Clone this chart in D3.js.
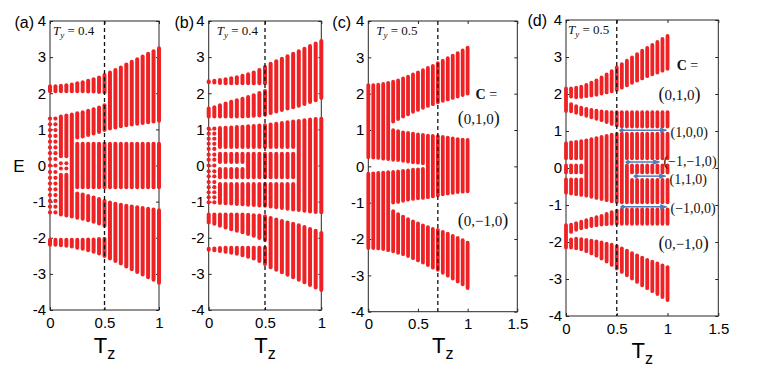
<!DOCTYPE html>
<html>
<head>
<meta charset="utf-8">
<script src="https://cdn.jsdelivr.net/npm/d3@7"></script>
<style>
body { margin: 0; background: #fff; }
svg { display: block; }
</style>
</head>
<body>
<div id="chart"></div>
<script>
const width = 763
const height = 370
const red = "#ee2224"
const blue = "#4a7ebb"
const axisColor = "#262626"
const sans = "Liberation Sans, Arial, sans-serif"
const serif = "Liberation Serif, Times New Roman, serif"

// T_z of every column
const tz = [0, 0.05, 0.1, 0.15, 0.2, 0.25, 0.3, 0.35, 0.4, 0.45, 0.5, 0.55, 0.6, 0.65, 0.7, 0.75, 0.8, 0.85, 0.9, 0.95, 1]
const yTicks = [-4, -3, -2, -1, 0, 1, 2, 3, 4]
const xTicksShort = [0, 0.5, 1]
const xTicksLong = [0, 0.5, 1, 1.5]

// panel (a): [lo, hi] of E for each column, null where the band is absent
const aBand1 = [[2.0,2.25],[2.0,2.25],[2.0,2.26],[2.0,2.28],[2.0,2.3],[2.0,2.33],[2.0,2.36],[1.99,2.4],[1.99,2.44],[1.98,2.49],[1.97,2.56],[0.97,2.63],[1.0,2.7],[1.03,2.77],[1.06,2.85],[1.08,2.93],[1.1,3.0],[1.12,3.07],[1.14,3.15],[1.16,3.22],[1.18,3.3]]
const aBand2 = [null,null,[0.2,1.41],[0.2,1.44],[-1.47,1.47],[0.72,1.5],[0.75,1.53],[0.79,1.57],[0.83,1.61],[0.87,1.66],[0.93,1.72],null,null,null,null,null,null,null,null,null,null]
const aBand3 = [null,null,[0.03,0.12],[0.03,0.12],null,[-0.66,0.66],[-0.66,0.66],[-0.66,0.66],[-0.66,0.66],[-0.66,0.66],[-0.66,0.66],[-0.66,0.66],[-0.66,0.66],[-0.66,0.66],[-0.66,0.66],[-0.66,0.66],[-0.66,0.66],[-0.66,0.66],[-0.66,0.66],[-0.66,0.66],[-0.66,0.66]]
const aBand4 = [null,null,[-0.12,-0.03],[-0.12,-0.03],null,null,null,null,null,null,null,null,null,null,null,null,null,null,null,null,null]
const aBand5 = [null,null,[-1.41,-0.2],[-1.44,-0.2],null,[-1.5,-0.72],[-1.53,-0.75],[-1.57,-0.79],[-1.61,-0.83],[-1.66,-0.87],[-1.72,-0.93],null,null,null,null,null,null,null,null,null,null]
const aBand6 = [[-2.25,-2.0],[-2.25,-2.0],[-2.26,-2.0],[-2.28,-2.0],[-2.3,-2.0],[-2.33,-2.0],[-2.36,-2.0],[-2.4,-1.99],[-2.44,-1.99],[-2.49,-1.98],[-2.56,-1.97],[-2.63,-0.97],[-2.7,-1.0],[-2.77,-1.03],[-2.85,-1.06],[-2.93,-1.08],[-3.0,-1.1],[-3.07,-1.12],[-3.15,-1.14],[-3.22,-1.16],[-3.3,-1.18]]
const aDotCols = [0, 0.05]
const aDotLevels = [1.3, 1.14, 0.98, 0.82, 0.66, 0.5, 0.34, 0.18, 0, -0.18, -0.34, -0.5, -0.66, -0.82, -0.98, -1.14, -1.3]

// panel (b)
const bBand1 = [[2.25,2.39],[2.24,2.4],[2.23,2.42],[2.22,2.44],[2.22,2.47],[2.22,2.5],[2.22,2.54],[2.22,2.58],[2.22,2.63],[2.22,2.7],[2.22,2.78],[1.4,2.87],[1.44,2.94],[1.48,3.01],[1.52,3.08],[1.56,3.15],[1.6,3.22],[1.65,3.29],[1.7,3.36],[1.75,3.43],[1.81,3.5]]
const bBand2 = [[1.3,1.63],[1.3,1.67],[1.3,1.72],[1.3,1.77],[1.3,1.82],[1.3,1.86],[1.3,1.9],[1.31,1.95],[1.32,2.0],[1.33,2.06],[1.35,2.12],null,null,null,null,null,null,null,null,null,null]
const bBand3 = [null,null,[0.46,1.09],[0.46,1.1],[0.46,1.11],[0.46,1.12],[0.46,1.13],[0.46,1.14],[0.46,1.15],[0.46,1.16],[0.46,1.17],[0.46,1.19],[0.46,1.21],[0.46,1.23],[0.46,1.25],[0.46,1.27],[-1.29,1.29],[-1.31,1.31],[-1.33,1.33],[-1.34,1.34],[-1.35,1.35]]
const bBand4 = [null,null,[0.04,0.38],[0.04,0.38],[0.04,0.38],[0.04,0.38],[0.04,0.38],[-0.38,0.38],[-0.38,0.38],[-0.38,0.38],[-0.38,0.38],[-0.38,0.38],[-0.38,0.38],[-0.38,0.38],[-0.38,0.38],[-0.38,0.38],null,null,null,null,null]
const bBand5 = [null,null,[-0.38,-0.04],[-0.38,-0.04],[-0.38,-0.04],[-0.38,-0.04],[-0.38,-0.04],null,null,null,null,null,null,null,null,null,null,null,null,null,null]
const bBand6 = [null,null,[-1.09,-0.46],[-1.1,-0.46],[-1.11,-0.46],[-1.12,-0.46],[-1.13,-0.46],[-1.14,-0.46],[-1.15,-0.46],[-1.16,-0.46],[-1.17,-0.46],[-1.19,-0.46],[-1.21,-0.46],[-1.23,-0.46],[-1.25,-0.46],[-1.27,-0.46],null,null,null,null,null]
const bBand7 = [[-1.63,-1.3],[-1.67,-1.3],[-1.72,-1.3],[-1.77,-1.3],[-1.82,-1.3],[-1.86,-1.3],[-1.9,-1.3],[-1.95,-1.31],[-2.0,-1.32],[-2.06,-1.33],[-2.12,-1.35],null,null,null,null,null,null,null,null,null,null]
const bBand8 = [[-2.39,-2.25],[-2.4,-2.24],[-2.42,-2.23],[-2.44,-2.22],[-2.47,-2.22],[-2.5,-2.22],[-2.54,-2.22],[-2.58,-2.22],[-2.63,-2.22],[-2.7,-2.22],[-2.78,-2.22],[-2.87,-1.4],[-2.94,-1.44],[-3.01,-1.48],[-3.08,-1.52],[-3.15,-1.56],[-3.22,-1.6],[-3.29,-1.65],[-3.36,-1.7],[-3.43,-1.75],[-3.5,-1.81]]
const bDotCols = [0, 0.05]
const bDotLevels = [1.02, 0.88, 0.74, 0.6, 0.46, 0.3, 0.16, 0, -0.16, -0.3, -0.46, -0.6, -0.74, -0.88, -1.02]

// panel (c)
const cBand1 = [[0.2,2.29],[0.19,2.29],[0.18,2.3],[0.16,2.32],[0.15,2.35],[1.18,2.38],[1.25,2.42],[1.32,2.47],[1.38,2.52],[1.45,2.58],[1.5,2.64],[1.56,2.7],[1.61,2.76],[1.66,2.82],[1.71,2.89],[1.75,2.96],[1.79,3.03],[1.83,3.1],[1.87,3.17],[1.91,3.24],[1.95,3.32]]
const cBand2 = [null,null,null,null,null,[0.13,1.05],[0.12,1.02],[0.1,0.99],[0.08,0.97],[0.06,0.95],[0.05,0.93],[0.03,0.92],[-0.9,0.9],[-0.88,0.89],[-0.85,0.88],[-0.82,0.86],[-0.8,0.84],[-0.78,0.82],[-0.76,0.8],[-0.75,0.79],[-0.74,0.78]]
const cBand3 = [[-2.3,-0.15],[-2.3,-0.14],[-2.31,-0.13],[-2.33,-0.12],[-2.36,-0.11],[-1.05,-0.1],[-1.03,-0.09],[-1.0,-0.07],[-0.97,-0.06],[-0.95,-0.04],[-0.93,-0.03],[-0.92,-0.02],null,null,null,null,null,null,null,null,null]
const cBand4 = [null,null,null,null,null,[-2.39,-1.18],[-2.43,-1.26],[-2.47,-1.33],[-2.52,-1.4],[-2.58,-1.46],[-2.64,-1.52],[-2.7,-1.57],[-2.77,-1.62],[-2.84,-1.67],[-2.9,-1.7],[-2.98,-1.75],[-3.06,-1.8],[-3.14,-1.86],[-3.22,-1.92],[-3.3,-1.98],[-3.4,-2.05]]

// panel (d)
const dBand1 = [[1.49,2.2],[1.88,2.2],[1.86,2.22],[1.87,2.25],[1.89,2.3],[1.91,2.36],[1.93,2.42],[1.96,2.5],[1.99,2.58],[2.02,2.67],[2.06,2.77],[2.12,2.86],[2.18,2.95],[2.25,3.04],[2.31,3.13],[2.37,3.22],[2.43,3.3],[2.48,3.38],[2.53,3.46],[2.58,3.54],[2.63,3.62]]
const dBand2 = [null,[1.48,1.78],[1.44,1.72],[1.4,1.68],[1.36,1.65],[1.32,1.62],[1.28,1.6],[1.24,1.58],[1.19,1.57],[1.14,1.56],[1.1,1.56],[1.07,1.56],[1.07,1.56],[1.07,1.56],[1.07,1.56],[1.07,1.56],[1.07,1.56],[1.07,1.56],[1.07,1.56],[1.07,1.56],[1.07,1.56]]
const dBand3 = [[0.21,0.72],[0.21,0.74],[0.21,0.76],[0.21,0.78],[-0.8,0.8],[-0.83,0.83],[-0.86,0.86],[-0.89,0.89],[-0.92,0.92],[-0.95,0.95],[-0.97,0.97],[-0.98,0.98],[0.21,0.98],[0.21,0.98],[0.21,0.98],[0.21,0.98],[0.21,0.98],[0.21,0.98],[0.21,0.98],[0.21,0.98],[0.21,0.98]]
const dBand4 = [[-0.17,0.12],[-0.17,0.12],[-0.17,0.12],[-0.17,0.12],null,null,null,null,null,null,null,null,[-0.98,0.12],[-0.17,0.12],[-0.17,0.12],[-0.17,0.12],[-0.17,0.12],[-0.17,0.12],[-0.17,0.12],[-0.17,0.12],[-0.17,0.12]]
const dBand5 = [[-0.72,-0.26],[-0.74,-0.26],[-0.76,-0.26],[-0.78,-0.26],null,null,null,null,null,null,null,null,null,[-0.98,-0.27],[-0.98,-0.27],[-0.98,-0.27],[-0.98,-0.27],[-0.98,-0.27],[-0.98,-0.27],[-0.98,-0.27],[-0.98,-0.27]]
const dBand6 = [null,[-1.78,-1.48],[-1.72,-1.44],[-1.68,-1.4],[-1.65,-1.36],[-1.62,-1.32],[-1.6,-1.28],[-1.58,-1.24],[-1.57,-1.19],[-1.56,-1.14],[-1.56,-1.1],[-1.56,-1.07],[-1.56,-1.07],[-1.56,-1.07],[-1.56,-1.07],[-1.56,-1.07],[-1.56,-1.07],[-1.56,-1.07],[-1.56,-1.07],[-1.56,-1.07],[-1.56,-1.07]]
const dBand7 = [[-2.2,-1.49],[-2.2,-1.88],[-2.22,-1.86],[-2.25,-1.87],[-2.3,-1.89],[-2.36,-1.91],[-2.42,-1.93],[-2.5,-1.96],[-2.58,-1.99],[-2.67,-2.02],[-2.77,-2.06],[-2.86,-2.12],[-2.95,-2.18],[-3.04,-2.25],[-3.13,-2.31],[-3.22,-2.37],[-3.3,-2.43],[-3.38,-2.48],[-3.46,-2.53],[-3.54,-2.58],[-3.62,-2.63]]

// gap arrows of panel (d)
const arrowE = [1.02, 0.16, -0.22, -1.05]
const arrowFrom = [0.55, 0.61, 0.69, 0.56]
const arrowTo = [0.99, 0.92, 0.98, 0.99]
const arrowLabels = ["(1,0,0)", "(\u22121,\u22121,0)", "(1,1,0)", "(\u22121,0,0)"]
// where the arrow labels sit (E), a little apart so they do not collide
const arrowLabelE = [1.0, 0.21, -0.27, -1.06]

const panels = [
    {name: "(a)", ty: "0.4", cut: 0.5, xmax: 1, xTicks: xTicksShort,
     bands: [aBand1, aBand2, aBand3, aBand4, aBand5, aBand6], dotCols: aDotCols, dotLevels: aDotLevels,
     x0: 50, x1: 159, y0: 21, y1: 310, tyDx: 3, nameX: 34, nameY: 28, xlabY: 353, notes: []},
    {name: "(b)", ty: "0.4", cut: 0.5, xmax: 1, xTicks: xTicksShort,
     bands: [bBand1, bBand2, bBand3, bBand4, bBand5, bBand6, bBand7, bBand8], dotCols: bDotCols, dotLevels: bDotLevels,
     x0: 208.7, x1: 321.3, y0: 21, y1: 310, tyDx: 8, nameX: 194, nameY: 28, xlabY: 353, notes: []},
    {name: "(c)", ty: "0.5", cut: 0.7, xmax: 1.5, xTicks: xTicksLong,
     bands: [cBand1, cBand2, cBand3, cBand4], dotCols: [], dotLevels: [],
     x0: 368.3, x1: 517.3, y0: 21, y1: 311.7, tyDx: 8, nameX: 351, nameY: 28, xlabY: 353,
     notes: [{t: 1.08, e: 2.01, text: "C =", bold: true}, {t: 0.9, e: 1.33, text: "(0,1,0)"}, {t: 0.9, e: -1.48, text: "(0,\u22121,0)"}]},
    {name: "(d)", ty: "0.5", cut: 0.5, xmax: 1.5, xTicks: xTicksLong,
     bands: [dBand1, dBand2, dBand3, dBand4, dBand5, dBand6, dBand7], dotCols: [], dotLevels: [],
     x0: 566, x1: 718.3, y0: 20, y1: 316, tyDx: 2, nameX: 547, nameY: 26, xlabY: 358,
     notes: [{t: 1.09, e: 2.81, text: "C =", bold: true}, {t: 0.91, e: 2.0, text: "(0,1,0)"}, {t: 0.91, e: -2.04, text: "(0,\u22121,0)"}],
     arrows: true}
]

const svg = d3.select("#chart").append("svg").attr("width", width).attr("height", height)
    .style("background", "#fff")

const defs = svg.append("defs")
defs.append("marker").attr("id", "head").attr("viewBox", "0 0 10 10")
    .attr("refX", 9).attr("refY", 5).attr("markerWidth", 7).attr("markerHeight", 7)
    .attr("markerUnits", "userSpaceOnUse").attr("orient", "auto")
    .append("path").attr("d", "M0,1L10,5L0,9Z").attr("fill", blue)
defs.append("marker").attr("id", "tail").attr("viewBox", "0 0 10 10")
    .attr("refX", 5).attr("refY", 5).attr("markerWidth", 6).attr("markerHeight", 6)
    .attr("markerUnits", "userSpaceOnUse").attr("orient", "auto")
    .append("path").attr("d", "M0,5L5,1L10,5L5,9Z").attr("fill", blue)

// writes a Chern label, parentheses a little taller than the digits
function chern(sel, text, size, parenSize) {
    text.split(/([()])/).filter(s => s.length).forEach(s => {
        sel.append("tspan").attr("font-size", s === "(" || s === ")" ? parenSize : size).text(s)
    })
}

panels.forEach(p => {
    const x = d3.scaleLinear().domain([0, p.xmax]).range([p.x0, p.x1])
    const y = d3.scaleLinear().domain([-4, 4]).range([p.y1, p.y0])
    const colW = p.xmax > 1 ? 3.8 : 4
    const g = svg.append("g")

    // box
    g.append("rect").attr("x", p.x0).attr("y", p.y0)
        .attr("width", p.x1 - p.x0).attr("height", p.y1 - p.y0)
        .attr("fill", "none").attr("stroke", axisColor).attr("stroke-width", 1)

    // axes with inward ticks on all four sides
    const styleAxis = a => {
        a.select(".domain").remove()
        a.selectAll("line").attr("stroke", axisColor)
        a.selectAll("text").attr("font-family", sans).attr("font-size", 15).attr("fill", "#000")
    }
    g.append("g").attr("transform", `translate(${p.x0},0)`)
        .call(d3.axisLeft(y).tickValues(yTicks).tickSizeInner(-3).tickSizeOuter(0).tickPadding(4).tickFormat(d => String(d)))
        .call(styleAxis)
    g.append("g").attr("transform", `translate(${p.x1},0)`)
        .call(d3.axisRight(y).tickValues(yTicks).tickSizeInner(-3).tickSizeOuter(0).tickFormat(""))
        .call(styleAxis)
    g.append("g").attr("transform", `translate(0,${p.y1})`)
        .call(d3.axisBottom(x).tickValues(p.xTicks).tickSizeInner(-3).tickSizeOuter(0).tickPadding(7).tickFormat(d => String(d)))
        .call(styleAxis)
    g.append("g").attr("transform", `translate(0,${p.y0})`)
        .call(d3.axisTop(x).tickValues(p.xTicks).tickSizeInner(-3).tickSizeOuter(0).tickFormat(""))
        .call(styleAxis)

    // spectrum columns
    const cols = g.append("g")
    p.bands.forEach(band => {
        const segs = band.map((s, i) => s && {t: tz[i], lo: s[0], hi: s[1]}).filter(d => d)
        cols.selectAll(null).data(segs).enter().append("rect")
            .attr("x", d => x(d.t) - colW / 2)
            .attr("y", d => y(d.hi))
            .attr("width", colW)
            .attr("height", d => Math.max(y(d.lo) - y(d.hi), colW))
            .attr("rx", colW / 2)
            .attr("fill", red)
    })
    const dots = p.dotCols.flatMap(t => p.dotLevels.map(e => ({t, e})))
    cols.selectAll(null).data(dots).enter().append("circle")
        .attr("cx", d => x(d.t)).attr("cy", d => y(d.e)).attr("r", 2.1).attr("fill", red)

    // dashed cut
    g.append("line").attr("x1", x(p.cut)).attr("x2", x(p.cut)).attr("y1", p.y0).attr("y2", p.y1)
        .attr("stroke", "#111").attr("stroke-width", 1.3).attr("stroke-dasharray", "4,3")

    // T_y annotation
    const ty = g.append("text").attr("x", p.x0 + p.tyDx).attr("y", p.y0 + 14)
        .attr("font-family", serif).attr("font-size", 13).attr("fill", "#111")
    ty.append("tspan").attr("font-style", "italic").text("T")
    ty.append("tspan").attr("font-style", "italic").attr("font-size", 9).attr("dy", 3).text("y")
    ty.append("tspan").attr("dy", -3).text(" = " + p.ty)

    // panel name
    g.append("text").attr("x", p.nameX).attr("y", p.nameY).attr("text-anchor", "end")
        .attr("font-family", sans).attr("font-size", 16).text(p.name)

    // x label
    const xl = g.append("text").attr("x", (p.x0 + p.x1) / 2).attr("y", p.xlabY)
        .attr("text-anchor", "middle").attr("font-family", sans).attr("font-size", 22)
    xl.append("tspan").text("T")
    xl.append("tspan").attr("font-size", 16).attr("dy", 6).text("z")

    // Chern number notes
    p.notes.forEach(n => {
        const t = g.append("text").attr("x", x(n.t)).attr("y", y(n.e)).attr("dy", "0.35em")
            .attr("font-family", serif).attr("fill", "#111")
        if (n.bold) {
            t.append("tspan").attr("font-weight", "bold").attr("font-size", 14).text("C")
            t.append("tspan").attr("font-size", 14).text(" =")
        } else {
            chern(t, n.text, 15, 18)
        }
    })

    if (p.arrows) {
        arrowE.forEach((e, i) => {
            g.append("line").attr("x1", x(arrowFrom[i])).attr("x2", x(arrowTo[i]))
                .attr("y1", y(e)).attr("y2", y(e))
                .attr("stroke", blue).attr("stroke-width", 1.5)
                .attr("marker-start", "url(#tail)").attr("marker-end", "url(#head)")
            const t = g.append("text").attr("x", x(arrowTo[i]) + 4).attr("y", y(arrowLabelE[i])).attr("dy", "0.35em")
                .attr("font-family", serif).attr("fill", "#111")
            chern(t, arrowLabels[i], 14, 14)
        })
    }
})

// y label, only on the first panel
svg.append("text").attr("x", 19).attr("y", 172).attr("text-anchor", "middle")
    .attr("font-family", sans).attr("font-size", 17).text("E")
</script>
</body>
</html>
